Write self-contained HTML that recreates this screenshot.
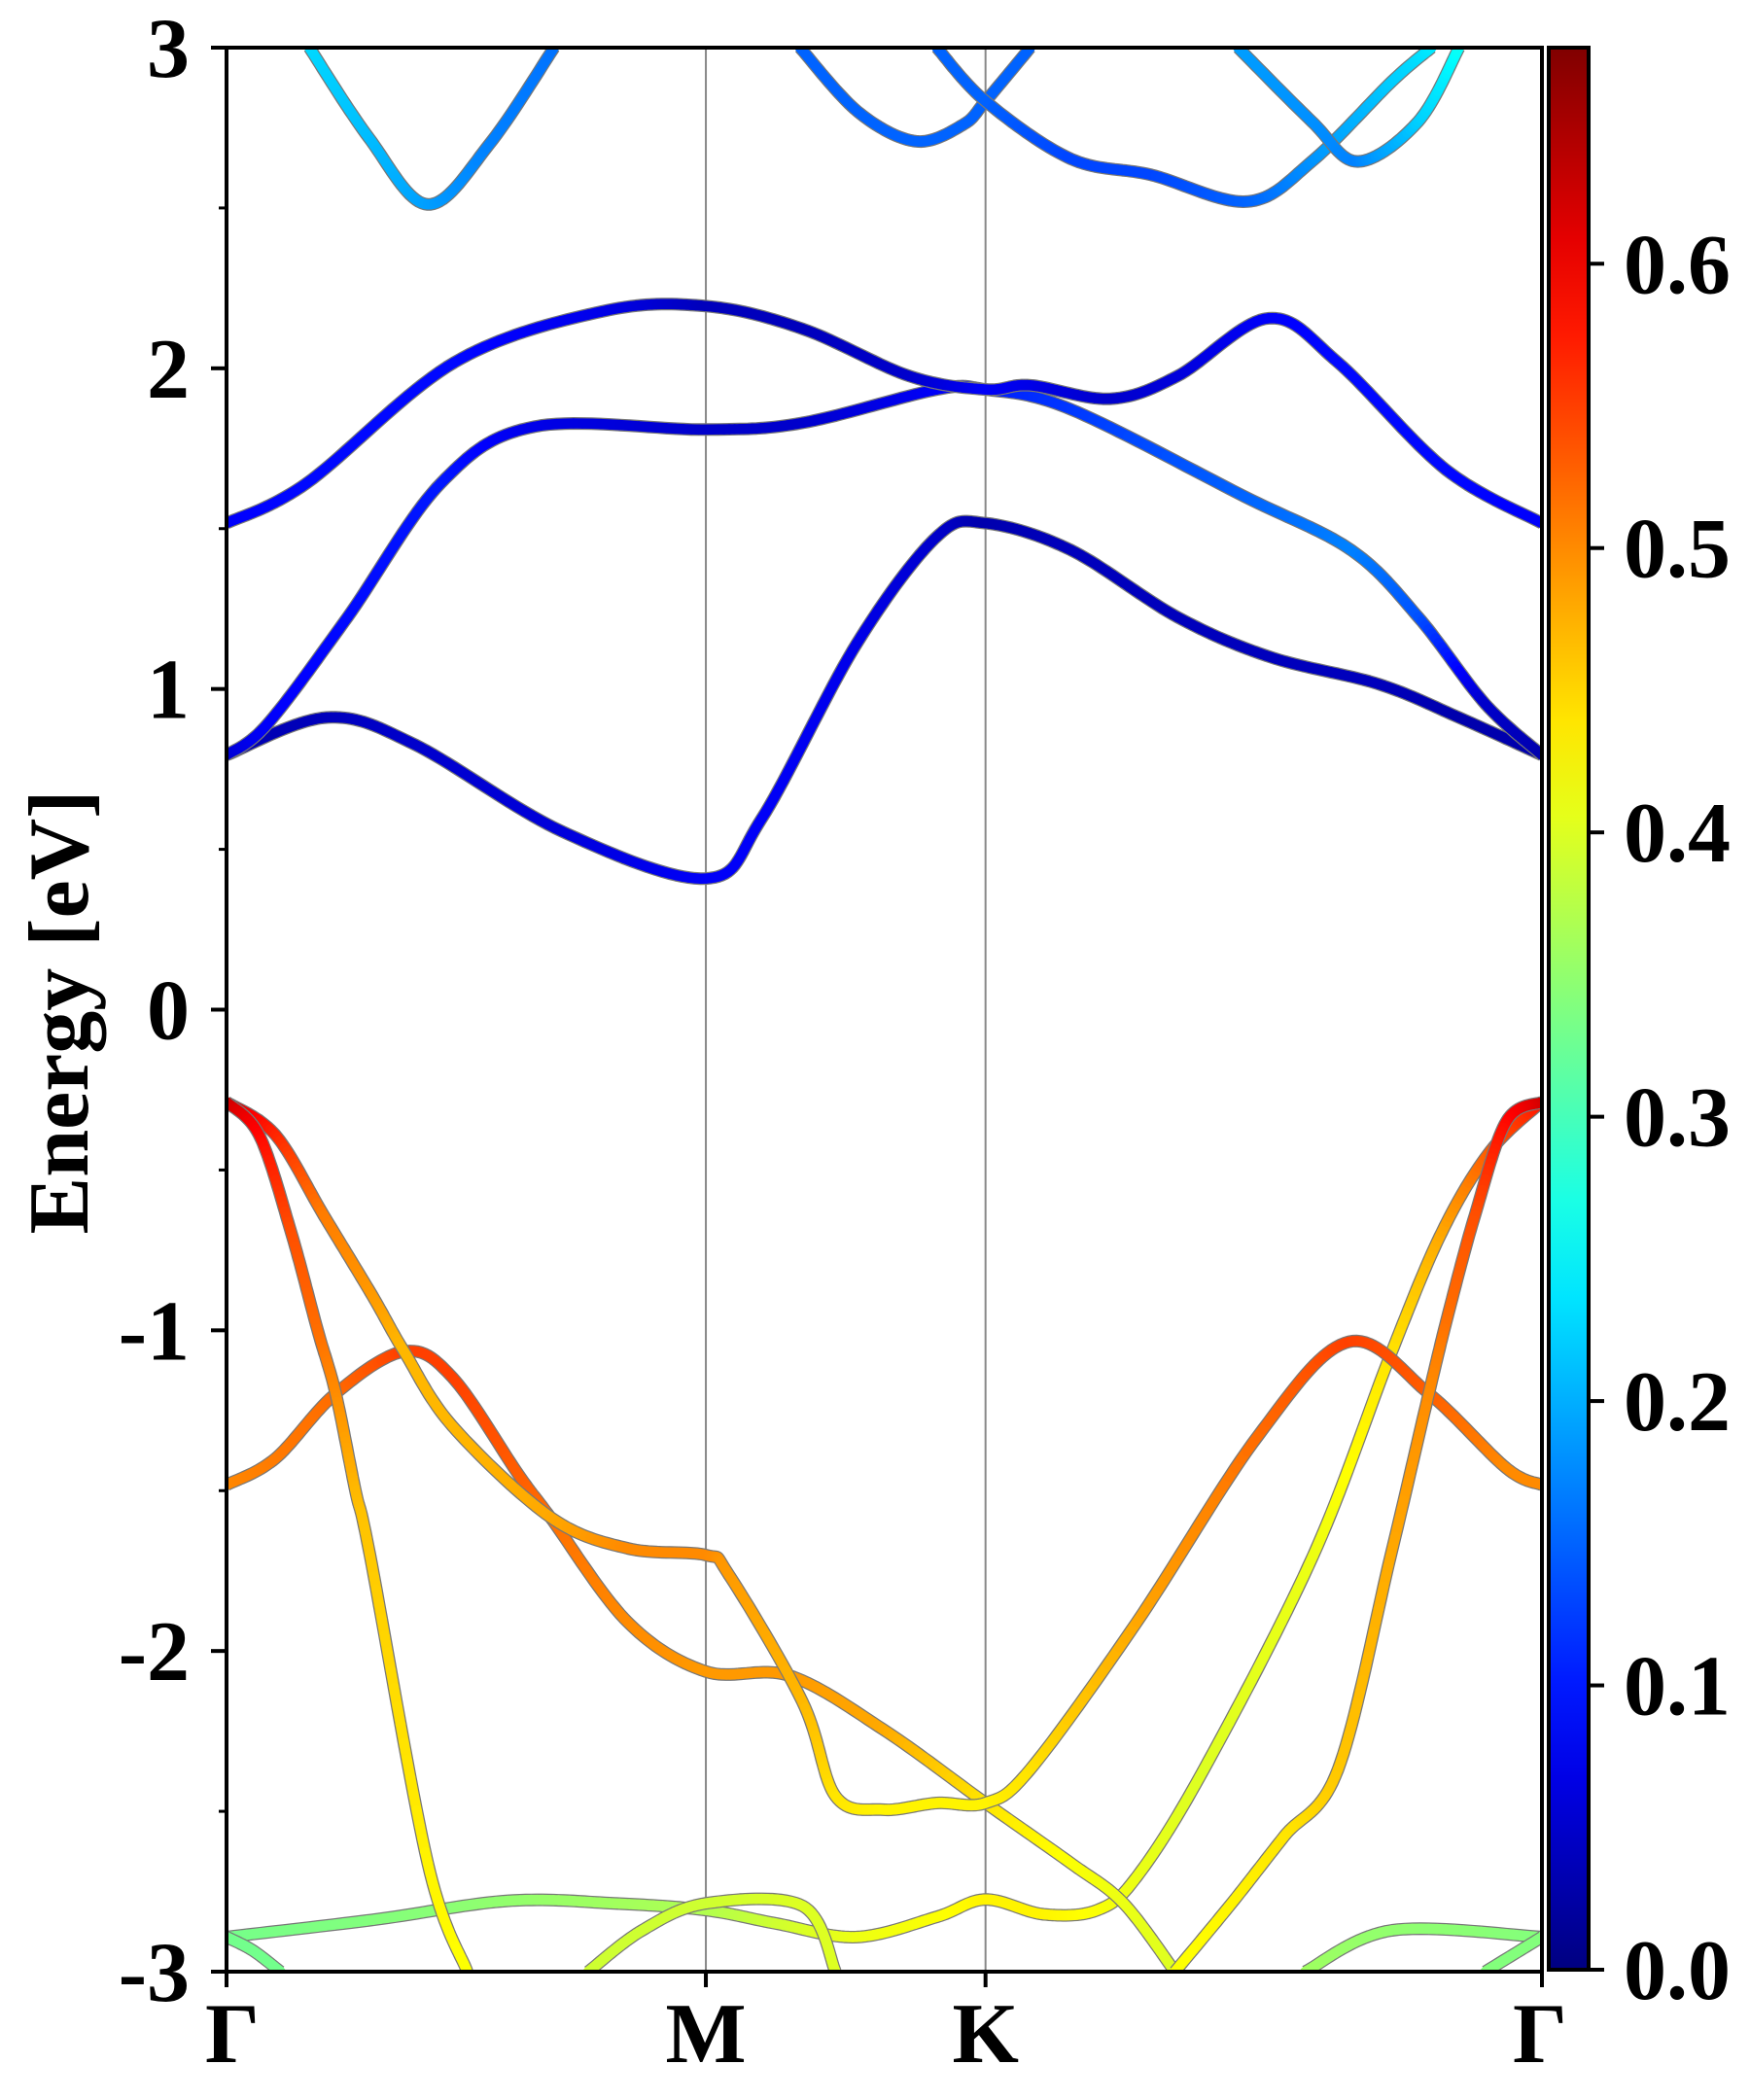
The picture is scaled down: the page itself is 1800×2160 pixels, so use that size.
<!DOCTYPE html>
<html><head><meta charset="utf-8"><style>
html,body{margin:0;padding:0;background:#fff;}
svg{display:block;}
text{font-family:"Liberation Serif","Times New Roman",serif;font-weight:bold;fill:#000;}
</style></head><body>
<svg id="chart" width="1800" height="2160" viewBox="0 0 1800 2160"></svg>
<script>
// ---- data ----
const kLabels = ["Γ","M","K","Γ"];
const kPositions = [0, 0.3644, 0.577, 1.0];
const yTicks = [-3,-2,-1,0,1,2,3];
const yTickLabels = ["-3","-2","-1","0","1","2","3"];
const cbTicks = [0,0.1,0.2,0.3,0.4,0.5,0.6];
const cbTickLabels = ["0.0","0.1","0.2","0.3","0.4","0.5","0.6"];
const cbMax = 0.676;

const bandC1k = [0,0.076,0.143,0.255,0.3644,0.407,0.479,0.540,0.577,0.642,0.723,0.794,0.876,0.937,1];
const bandC1E = [0.794,0.911,0.827,0.556,0.409,0.597,1.141,1.475,1.517,1.433,1.224,1.099,1.015,0.911,0.794];
const bandC1w = [0.03,0.04,0.05,0.06,0.08,0.08,0.07,0.05,0.03,0.04,0.04,0.04,0.04,0.03,0.03];

const bandC2k = [0,0.031,0.092,0.163,0.234,0.3644,0.438,0.540,0.577,0.642,0.774,0.855,0.906,0.957,1];
const bandC2E = [0.794,0.89,1.224,1.642,1.818,1.809,1.830,1.934,1.934,1.872,1.600,1.433,1.224,0.953,0.794];
const bandC2w = [0.05,0.08,0.09,0.10,0.07,0.05,0.05,0.08,0.10,0.12,0.15,0.17,0.14,0.05,0.03];

const bandC3k = [0,0.061,0.173,0.285,0.3644,0.438,0.519,0.577,0.611,0.672,0.723,0.792,0.845,0.927,1];
const bandC3E = [1.517,1.642,2.018,2.177,2.194,2.123,1.976,1.934,1.947,1.905,1.976,2.156,2.018,1.684,1.517];
const bandC3w = [0.08,0.09,0.09,0.07,0.04,0.04,0.05,0.08,0.07,0.05,0.06,0.08,0.09,0.09,0.08];

const bandC4k = [0.063,0.108,0.153,0.200,0.249];
const bandC4E = [3.0,2.72,2.511,2.70,3.0];
const bandC4w = [0.23,0.21,0.19,0.17,0.16];

const bandC5k = [0.436,0.480,0.524,0.560,0.577,0.611];
const bandC5E = [3.0,2.80,2.708,2.76,2.833,3.0];
const bandC5w = [0.15,0.15,0.15,0.15,0.15,0.15];

const bandC6k = [0.540,0.577,0.642,0.703,0.776,0.825,0.886,0.916];
const bandC6E = [3.0,2.833,2.653,2.603,2.520,2.645,2.895,3.0];
const bandC6w = [0.15,0.15,0.13,0.13,0.15,0.18,0.22,0.24];

const bandC7k = [0.769,0.825,0.860,0.906,0.937];
const bandC7E = [3.0,2.770,2.645,2.770,3.0];
const bandC7w = [0.19,0.18,0.17,0.22,0.26];

const bandV1k = [0,0.025,0.049,0.069,0.083,0.098,0.109,0.153,0.183];
const bandV1E = [-0.288,-0.393,-0.693,-0.996,-1.197,-1.50,-1.70,-2.662,-3.0];
const bandV1w = [0.63,0.59,0.54,0.52,0.50,0.47,0.46,0.43,0.42];

const bandV2k = [0,0.037,0.074,0.111,0.135,0.172,0.246,0.305,0.3644,0.382,0.438,0.463,0.499,0.540,0.577,0.611,0.692,0.784,0.853,0.914,0.973,1];
const bandV2E = [-0.288,-0.39,-0.642,-0.893,-1.066,-1.30,-1.582,-1.680,-1.701,-1.763,-2.160,-2.453,-2.495,-2.474,-2.474,-2.369,-1.910,-1.330,-1.036,-1.197,-1.430,-1.482];
const bandV2w = [0.63,0.57,0.51,0.49,0.47,0.47,0.48,0.50,0.50,0.49,0.47,0.44,0.43,0.43,0.43,0.44,0.48,0.52,0.55,0.53,0.50,0.50];

const bandV3k = [0,0.037,0.083,0.135,0.172,0.222,0.246,0.305,0.3644,0.428,0.499,0.577,0.642,0.682,0.721];
const bandV3E = [-1.482,-1.40,-1.197,-1.066,-1.148,-1.45,-1.582,-1.910,-2.064,-2.077,-2.244,-2.474,-2.662,-2.787,-3.0];
const bandV3w = [0.50,0.51,0.52,0.55,0.55,0.53,0.52,0.50,0.49,0.49,0.48,0.44,0.42,0.41,0.40];

const bandV4k = [1,0.973,0.949,0.929,0.914,0.885,0.845,0.804,0.764,0.721];
const bandV4E = [-0.288,-0.348,-0.642,-0.945,-1.197,-1.703,-2.369,-2.578,-2.787,-3.0];
const bandV4w = [0.63,0.59,0.54,0.52,0.50,0.48,0.46,0.44,0.43,0.42];

const bandV5k = [0,0.112,0.214,0.295,0.3644,0.418,0.479,0.540,0.577,0.621,0.662,0.692,0.743,0.826,0.885,0.924,0.961,1];
const bandV5E = [-2.892,-2.838,-2.779,-2.787,-2.808,-2.850,-2.892,-2.829,-2.775,-2.821,-2.808,-2.704,-2.369,-1.703,-1.075,-0.693,-0.44,-0.287];
const bandV5w = [0.33,0.34,0.35,0.36,0.37,0.39,0.41,0.42,0.43,0.43,0.42,0.41,0.40,0.41,0.44,0.48,0.53,0.58];

const bandV6k = [0.275,0.316,0.3644,0.438,0.463];
const bandV6E = [-3.0,-2.871,-2.787,-2.795,-3.0];
const bandV6w = [0.39,0.39,0.39,0.40,0.40];

const bandV7k = [0,0.020,0.041];
const bandV7E = [-2.892,-2.934,-3.0];
const bandV7w = [0.33,0.33,0.33];

const bandV8k = [0.820,0.886,1];
const bandV8E = [-3.0,-2.871,-2.892];
const bandV8w = [0.36,0.35,0.34];

const bandV9k = [0.957,1];
const bandV9E = [-3.0,-2.892];
const bandV9w = [0.34,0.34];

const bands = [
 ["band-c1",bandC1k,bandC1E,bandC1w],["band-c2",bandC2k,bandC2E,bandC2w],["band-c3",bandC3k,bandC3E,bandC3w],
 ["band-c4",bandC4k,bandC4E,bandC4w],["band-c5",bandC5k,bandC5E,bandC5w],["band-c6",bandC6k,bandC6E,bandC6w],["band-c7",bandC7k,bandC7E,bandC7w],
 ["band-v5",bandV5k,bandV5E,bandV5w],["band-v6",bandV6k,bandV6E,bandV6w],["band-v7",bandV7k,bandV7E,bandV7w],["band-v8",bandV8k,bandV8E,bandV8w],["band-v9",bandV9k,bandV9E,bandV9w],
 ["band-v3",bandV3k,bandV3E,bandV3w],["band-v2",bandV2k,bandV2E,bandV2w],["band-v1",bandV1k,bandV1E,bandV1w],["band-v4",bandV4k,bandV4E,bandV4w]
];

// ---- layout ----
const L=233, R=1586, T=49, B=2028;
const CBL=1593, CBR=1634;
const FONT='"Liberation Serif","Times New Roman",serif';
function xS(k){return L+k*(R-L);}
function yS(e){return T+(3-e)/6*(B-T);}
function cbY(v){return B-2+(v/cbMax)*(T-(B-2));}
function jet(v){
  const t=Math.max(0,Math.min(1,v/cbMax));
  const f=function(x){return Math.max(0,Math.min(1,1.5-Math.abs(4*t-x)));};
  return "rgb("+Math.round(255*f(3))+","+Math.round(255*f(2))+","+Math.round(255*f(1))+")";
}
const NS="http://www.w3.org/2000/svg";
const svg=document.getElementById('chart');
function mk(tag,attrs,parent){const e=document.createElementNS(NS,tag);for(const a in attrs)e.setAttribute(a,attrs[a]);(parent||svg).appendChild(e);return e;}

const defs=mk('defs',{});
const cp=mk('clipPath',{id:'plotclip'},defs);
mk('rect',{x:L,y:T,width:R-L,height:B-T},cp);
const grad=mk('linearGradient',{id:'jetgrad',x1:0,y1:1,x2:0,y2:0},defs);
for(let i=0;i<=20;i++){mk('stop',{offset:(i/20),'stop-color':jet(i/20*cbMax)},grad);}

[1,2].forEach(function(i){
  const ln=mk('line',{x1:xS(kPositions[i]),x2:xS(kPositions[i]),y1:T,y2:B,stroke:'#888','stroke-width':2});
  
  
});

const gB=mk('g',{'clip-path':'url(#plotclip)'});


function sample(ks,es,ws){
  const pts=[];const n=ks.length;
  for(let i=0;i<n-1;i++){
    const p0=i>0?i-1:i,p3=i+2<n?i+2:i+1;
    const N=20;
    for(let s=0;s<N;s++){
      const t=s/N,t2=t*t,t3=t2*t;
      const cr=function(a){return 0.5*((2*a[i])+(-a[p0]+a[i+1])*t+(2*a[p0]-5*a[i]+4*a[i+1]-a[p3])*t2+(-a[p0]+3*a[i]-3*a[i+1]+a[p3])*t3);};
      pts.push([xS(cr(ks)),yS(cr(es)),ws[i]+(ws[i+1]-ws[i])*t]);
    }
  }
  pts.push([xS(ks[n-1]),yS(es[n-1]),ws[n-1]]);
  return pts;
}
bands.forEach(function(b){
  const pts=sample(b[1],b[2],b[3]);
  const g=mk('g',{},gB);
  
  
  let d="M"+pts.map(function(p){return p[0].toFixed(1)+","+p[1].toFixed(1);}).join("L");
  mk('path',{d:d,fill:'none',stroke:'#777','stroke-width':13,'stroke-linejoin':'round'},g);
  for(let i=0;i<pts.length-1;i++){
    mk('line',{x1:pts[i][0],y1:pts[i][1],x2:pts[i+1][0],y2:pts[i+1][1],stroke:jet((pts[i][2]+pts[i+1][2])/2),'stroke-width':10.5,'stroke-linecap':'round'},g);
  }
});

const fr=mk('rect',{x:L,y:T,width:R-L,height:B-T,fill:'none',stroke:'#000','stroke-width':4});



yTicks.forEach(function(v,i){
  mk('line',{x1:L-16,x2:L,y1:yS(v),y2:yS(v),stroke:'#000','stroke-width':4});
  const t=mk('text',{x:195,y:yS(v)+30,'text-anchor':'end','font-size':88,'font-family':FONT,'font-weight':'bold'});
  t.textContent=yTickLabels[i];
  
  
  if(i<yTicks.length-1){const m=v+0.5;mk('line',{x1:L-8,x2:L,y1:yS(m),y2:yS(m),stroke:'#000','stroke-width':3});}
});
kPositions.forEach(function(k,i){
  mk('line',{x1:xS(k),x2:xS(k),y1:B,y2:B+16,stroke:'#000','stroke-width':4});
  const t=mk('text',{x:xS(k)+(i==0?6:(i==3?-2:0)),y:2121,'text-anchor':'middle','font-size':88,'font-family':FONT,'font-weight':'bold'});
  t.textContent=kLabels[i];
  
  
});
const yl=mk('text',{x:0,y:0,'text-anchor':'middle','font-size':88,'font-family':FONT,'font-weight':'bold',transform:'translate(90,1041) rotate(-90)'});
yl.textContent="Energy [eV]";



const cb=mk('rect',{x:CBL,y:T,width:CBR-CBL,height:B-2-T,fill:'url(#jetgrad)',stroke:'#000','stroke-width':4});


cbTicks.forEach(function(v,i){
  mk('line',{x1:CBR,x2:CBR+16,y1:cbY(v),y2:cbY(v),stroke:'#000','stroke-width':4});
  const t=mk('text',{x:1670,y:cbY(v)+30,'font-size':88,'font-family':FONT,'font-weight':'bold'});
  t.textContent=cbTickLabels[i];
  
  
});
</script>
</body></html>
